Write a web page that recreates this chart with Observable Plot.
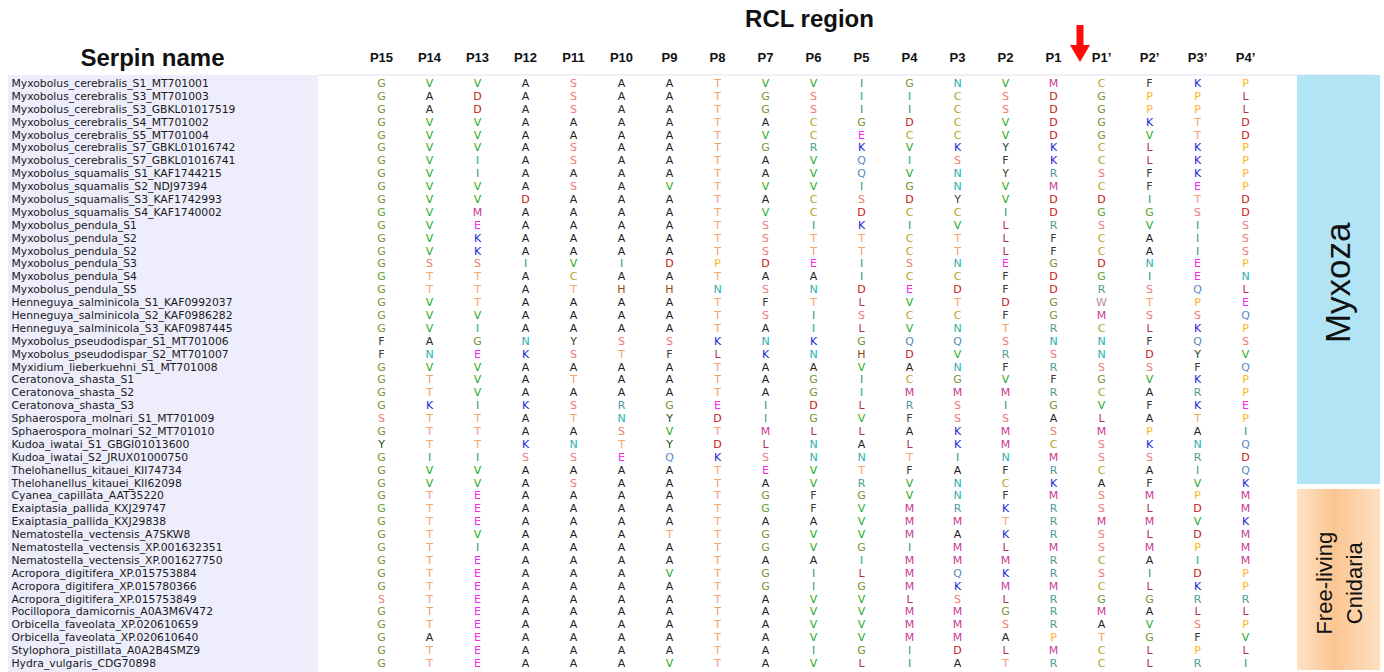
<!DOCTYPE html>
<html>
<head>
<meta charset="utf-8">
<script src="https://cdn.jsdelivr.net/npm/d3@7"></script>
<script src="https://cdn.jsdelivr.net/npm/@observablehq/plot@0.6"></script>
<style>
  html, body { margin: 0; padding: 0; background: #fff; }
  svg { display: block; }
</style>
</head>
<body>
<div id="chart"></div>
<script>
// ---------- DATA ----------
const positions = ["P15","P14","P13","P12","P11","P10","P9","P8","P7","P6","P5","P4","P3","P2","P1","P1’","P2’","P3’","P4’"];

const names = [
  "Myxobolus_cerebralis_S1_MT701001",
  "Myxobolus_cerebralis_S3_MT701003",
  "Myxobolus_cerebralis_S3_GBKL01017519",
  "Myxobolus_cerebralis_S4_MT701002",
  "Myxobolus_cerebralis_S5_MT701004",
  "Myxobolus_cerebralis_S7_GBKL01016742",
  "Myxobolus_cerebralis_S7_GBKL01016741",
  "Myxobolus_squamalis_S1_KAF1744215",
  "Myxobolus_squamalis_S2_NDJ97394",
  "Myxobolus_squamalis_S3_KAF1742993",
  "Myxobolus_squamalis_S4_KAF1740002",
  "Myxobolus_pendula_S1",
  "Myxobolus_pendula_S2",
  "Myxobolus_pendula_S2",
  "Myxobolus_pendula_S3",
  "Myxobolus_pendula_S4",
  "Myxobolus_pendula_S5",
  "Henneguya_salminicola_S1_KAF0992037",
  "Henneguya_salminicola_S2_KAF0986282",
  "Henneguya_salminicola_S3_KAF0987445",
  "Myxobolus_pseudodispar_S1_MT701006",
  "Myxobolus_pseudodispar_S2_MT701007",
  "Myxidium_lieberkuehni_S1_MT701008",
  "Ceratonova_shasta_S1",
  "Ceratonova_shasta_S2",
  "Ceratonova_shasta_S3",
  "Sphaerospora_molnari_S1_MT701009",
  "Sphaerospora_molnari_S2_MT701010",
  "Kudoa_iwatai_S1_GBGI01013600",
  "Kudoa_iwatai_S2_JRUX01000750",
  "Thelohanellus_kitauei_KII74734",
  "Thelohanellus_kitauei_KII62098",
  "Cyanea_capillata_AAT35220",
  "Exaiptasia_pallida_KXJ29747",
  "Exaiptasia_pallida_KXJ29838",
  "Nematostella_vectensis_A7SKW8",
  "Nematostella_vectensis_XP.001632351",
  "Nematostella_vectensis_XP.001627750",
  "Acropora_digitifera_XP.015753884",
  "Acropora_digitifera_XP.015780366",
  "Acropora_digitifera_XP.015753849",
  "Pocillopora_damicornis_A0A3M6V472",
  "Orbicella_faveolata_XP.020610659",
  "Orbicella_faveolata_XP.020610640",
  "Stylophora_pistillata_A0A2B4SMZ9",
  "Hydra_vulgaris_CDG70898"
];

// P15..P4' residues, one string per sequence
const sequences = [
  "GVVASAATVVIGNVMCFKP",
  "GADASAATGSIICSDGPPL",
  "GADASAATGSIICSDGPPL",
  "GVVAAAATACGDCVDGKTD",
  "GVVAAAATVCECCVDGVTD",
  "GVVASAATGRKVKYKCLKP",
  "GVIASAATAVQISFKCLKP",
  "GVIAAAATAVQVNYRSFKP",
  "GVVASAVTVVIGNVMCFEP",
  "GVVDAAATACSDYVDDITD",
  "GVMAAAATVCDCCIDGGSD",
  "GVEAAAATSIKIVLRSVIS",
  "GVKAAAATSTTCTLFCAIS",
  "GVKAAAATSTTCTLFCAIS",
  "GSSIVIDPDEISNEGDNEP",
  "GTTACAATAAICCFDGIEN",
  "GTTATHHNSNDEDFDRSQL",
  "GVTAAAATFTLVTDGWTPE",
  "GVVAAAATSISCCFGMSSQ",
  "GVIAAAATAILVNTRCLKP",
  "FAGNYSSKNKGQQSNNFQS",
  "FNEKSTFLKNHDVRSNDYV",
  "GVVAAAATAAVANFRSSFQ",
  "GTVATAATAGICGVFGVKP",
  "GTVAAAATAGIMMMRCARP",
  "GKIKSRGEIDLRSIGVFKE",
  "STTATNYDIGVFSSALATP",
  "GTTAASVTMLLAKMSMPAI",
  "YTTKNTYDLNALKMCSKNQ",
  "GIISSEQKSNNTINMSSRD",
  "GVVAAAATEVTFAFRCAIQ",
  "GVVASAATAVRVNCKAFVK",
  "GTEAAAATGFGVNFMSMPM",
  "GTEAAAATGFVMRKRSLDM",
  "GTEAAAATAAVMMTRMMVK",
  "GTVAAATTGVVMAKRSLDM",
  "GTIAAAATGVGIMLMSMPM",
  "GTEAAAATAAIMMMRCAIM",
  "GTEAAAVTGILMQKRSIDP",
  "GTEAAAATGIGMKMMCLKP",
  "STEAAAATAVVLSLRGGRR",
  "GTEAAAATAVVMMGRMALL",
  "GTEAAAATAVVMMSRAVSP",
  "GAEAAAATAVVMMAPTGFV",
  "GTEAAAATAIGIDLMCLPL",
  "GTEAAAVTAVLIATRCLRI"
];

const groupNames = ["Myxoza", "Free-living Cnidaria"];
const groupSizes = [32, 14];

const residueLetters = ["A","G","V","I","L","M","F","W","C","S","T","Y","N","Q","D","E","K","R","H","P"];
const residueColors  = ["#222222","#6b9a3c","#1faa2a","#3a9a5e","#b0305c","#c83a94","#3a3a3a","#c08a9a","#b5a62c","#f07a7a","#f4a36a","#2a4a2a","#1fb0b0","#5a8ac8","#bf2026","#f030f0","#2424e0","#4f9a9a","#8b4a1c","#ffb31a"];

// ---------- DERIVED TABLES ----------
const colorOf = Object.fromEntries(residueLetters.map((r, i) => [r, residueColors[i]]));
const rows = names.map((name, i) => ({i, name}));
const cells = [];
sequences.forEach((seq, i) => seq.split("").forEach((aa, j) => cells.push({row: i, pos: positions[j], aa})));
const groups = [];
{ let s = 0; groupNames.forEach((g, k) => { groups.push({name: g, start: s, end: s + groupSizes[k] - 1}); s += groupSizes[k]; }); }

// ---------- DECORATION RENDERERS ----------
function backdrop(index, scales, values, dims) {
  const y = scales.y;
  const g = d3.create("svg:g");
  const defs = g.append("defs");
  const grad = defs.append("linearGradient").attr("id", "peach").attr("x1", "0").attr("x2", "1").attr("y1", "0").attr("y2", "0");
  grad.append("stop").attr("offset", "0%").attr("stop-color", "#fde3c6");
  grad.append("stop").attr("offset", "45%").attr("stop-color", "#fbc592");
  grad.append("stop").attr("offset", "100%").attr("stop-color", "#fde0c0");
  g.append("rect").attr("x", 8).attr("width", 310)
    .attr("y", y(0) - 8).attr("height", dims.height - (y(0) - 8))
    .attr("fill", "#ededfc");
  g.append("line").attr("x1", 318).attr("x2", 1375).attr("y1", y(0) - 8).attr("y2", y(0) - 8)
    .attr("stroke", "#f0f0f6").attr("stroke-width", 2);
  groups.forEach((grp, k) => {
    const top = k === 0 ? y(grp.start) - 8 : y(grp.start) - 6.5;
    const bottom = k === groups.length - 1 ? dims.height - 2 : y(grp.end) + 1.5;
    g.append("rect").attr("x", 1297).attr("width", 83)
      .attr("y", top).attr("height", bottom - top)
      .attr("fill", k === 0 ? "#b1e5f6" : "url(#peach)");
  });
  return g.node();
}

function groupLabels(index, scales, values, dims) {
  const y = scales.y;
  const g = d3.create("svg:g")
    .attr("font-family", "'Liberation Sans', Arial, sans-serif")
    .attr("fill", "#111");
  groups.forEach((grp, k) => {
    const cy = (y(grp.start) + y(grp.end)) / 2;
    if (k === 0) {
      g.append("text").attr("transform", `translate(1338,${cy}) rotate(-90)`)
        .attr("text-anchor", "middle").attr("dy", "0.35em")
        .attr("font-size", 35).text(grp.name);
    } else {
      const parts = grp.name.split(" ");
      parts.forEach((p, m) => {
        g.append("text").attr("transform", `translate(${1324 + m * 30},${cy + 4}) rotate(-90)`)
          .attr("text-anchor", "middle").attr("dy", "0.35em")
          .attr("font-size", 22).text(p);
      });
    }
  });
  return g.node();
}

function cleavageArrow(index, scales) {
  const x = scales.x;
  const cx = (x("P1") + x("P1’")) / 2 + 3;
  const d = `M${cx - 3.5},25 L${cx + 3.5},25 L${cx + 3.5},45 L${cx + 10},45 L${cx},62 L${cx - 10},45 L${cx - 3.5},45 Z`;
  return d3.create("svg:path").attr("d", d).attr("fill", "#ff0a0a").node();
}

// ---------- PLOT ----------
const chart = Plot.plot({
  width: 1384,
  height: 672,
  margin: 0,
  style: {background: "#fff"},
  x: {type: "point", domain: positions, range: [348, 1278], axis: null},
  y: {type: "linear", domain: [0, names.length - 1], range: [83, 663], axis: null},
  color: {type: "identity"},
  marks: [
    backdrop,
    Plot.text(rows, {
      y: "i", text: "name", frameAnchor: "left", dx: 11, textAnchor: "start",
      fontSize: 10.8, fill: "#1a1a1a", fontFamily: "'DejaVu Sans', sans-serif"
    }),
    Plot.text(cells, {
      x: "pos", y: "row", text: "aa", fill: d => colorOf[d.aa],
      fontSize: 11, fontFamily: "'DejaVu Sans', sans-serif"
    }),
    Plot.text(positions, {
      x: d => d, text: d => d, frameAnchor: "top", lineAnchor: "middle", dy: 57,
      fontWeight: "bold", fontSize: 13, fill: "#111", fontFamily: "'Liberation Sans', Arial, sans-serif"
    }),
    Plot.text(["Serpin name"], {
      text: d => d, frameAnchor: "top-left", dx: 152, dy: 58, lineAnchor: "middle", textAnchor: "middle",
      fontWeight: "bold", fontSize: 24, fill: "#111", fontFamily: "'Liberation Sans', Arial, sans-serif"
    }),
    Plot.text(["RCL region"], {
      text: d => d, frameAnchor: "top-left", dx: 809, dy: 19, lineAnchor: "middle", textAnchor: "middle",
      fontWeight: "bold", fontSize: 24, fill: "#111", fontFamily: "'Liberation Sans', Arial, sans-serif"
    }),
    cleavageArrow,
    groupLabels
  ]
});
document.getElementById("chart").appendChild(chart);
</script>
</body>
</html>
